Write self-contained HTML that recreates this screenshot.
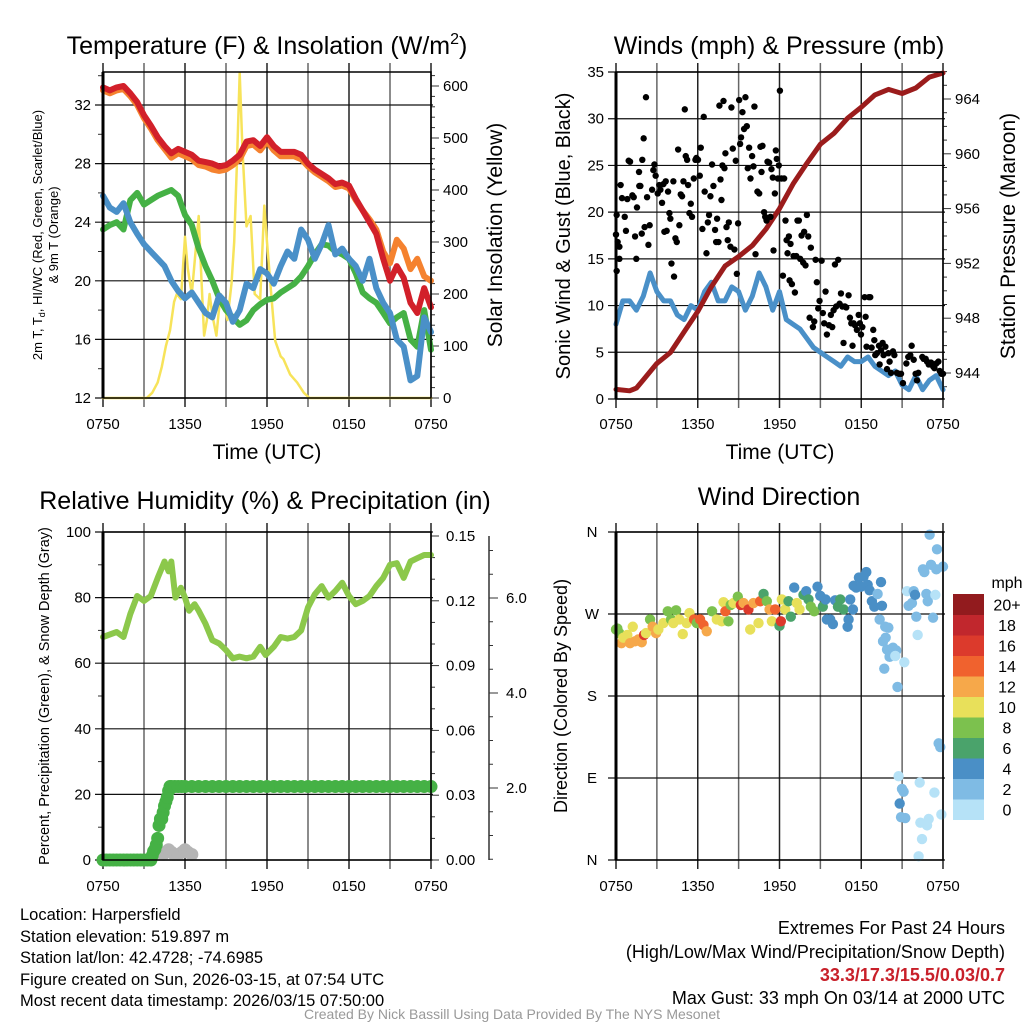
<!DOCTYPE html>
<html><head><meta charset="utf-8">
<style>
html,body{margin:0;padding:0;background:#fff;}
svg{display:block;font-family:"Liberation Sans",Arial,sans-serif;}
</style></head>
<body>
<svg id="fig" width="1024" height="1024" viewBox="0 0 1024 1024" xmlns="http://www.w3.org/2000/svg">
<rect x="0" y="0" width="1024" height="1024" fill="#fff"/>
<text x="267" y="54" font-size="25" text-anchor="middle">Temperature (F) &amp; Insolation (W/m<tspan font-size="16" dy="-10">2</tspan><tspan dy="10">)</tspan></text>
<text x="779" y="54" font-size="25" text-anchor="middle">Winds (mph) &amp; Pressure (mb)</text>
<text x="265" y="509" font-size="25" text-anchor="middle">Relative Humidity (%) &amp; Precipitation (in)</text>
<text x="779" y="505" font-size="25" text-anchor="middle">Wind Direction</text>

<text x="267" y="459" font-size="21" text-anchor="middle">Time (UTC)</text>
<text x="780" y="459" font-size="21" text-anchor="middle">Time (UTC)</text>
<text transform="translate(42,235) rotate(-90)" font-size="13" text-anchor="middle">2m T, T<tspan font-size="9" dy="3">d</tspan><tspan dy="-3">, HI/WC (Red, Green, Scarlet/Blue)</tspan></text>
<text transform="translate(58,235) rotate(-90)" font-size="13" text-anchor="middle">&amp; 9m T (Orange)</text>
<text transform="translate(502,235) rotate(-90)" font-size="21" text-anchor="middle">Solar Insolation (Yellow)</text>
<text transform="translate(570,236) rotate(-90)" font-size="20" text-anchor="middle">Sonic Wind &amp; Gust (Blue, Black)</text>
<text transform="translate(1015,236) rotate(-90)" font-size="21" text-anchor="middle">Station Pressure (Maroon)</text>
<text transform="translate(49,696) rotate(-90)" font-size="14.5" text-anchor="middle">Percent, Precipitation (Green), &amp; Snow Depth (Gray)</text>
<text transform="translate(567,696) rotate(-90)" font-size="18" text-anchor="middle">Direction (Colored By Speed)</text>

<g font-size="16.5">
<text x="20" y="920">Location: Harpersfield</text>
<text x="20" y="942">Station elevation: 519.897 m</text>
<text x="20" y="963">Station lat/lon: 42.4728; -74.6985</text>
<text x="20" y="985">Figure created on Sun, 2026-03-15, at 07:54 UTC</text>
<text x="20" y="1006">Most recent data timestamp: 2026/03/15 07:50:00</text>
</g>
<g font-size="18" text-anchor="end">
<text x="1005" y="934">Extremes For Past 24 Hours</text>
<text x="1005" y="958">(High/Low/Max Wind/Precipitation/Snow Depth)</text>
<text x="1005" y="981" fill="#c8202a" font-weight="bold">33.3/17.3/15.5/0.03/0.7</text>
<text x="1005" y="1004">Max Gust: 33 mph On 03/14 at 2000 UTC</text>
</g>
<text x="512" y="1019" font-size="14" fill="#999" text-anchor="middle">Created By Nick Bassill Using Data Provided By The NYS Mesonet</text>
<g id="plots"></g>
</svg>
<script>
// ---------- DATA ----------
const xTickLabels = ["0750","1350","1950","0150","0750"];
const halfHours = [0,0.5,1,1.5,2,2.5,3,3.5,4,4.5,5,5.5,6,6.5,7,7.5,8,8.5,9,9.5,10,10.5,11,11.5,12,12.5,13,13.5,14,14.5,15,15.5,16,16.5,17,17.5,18,18.5,19,19.5,20,20.5,21,21.5,22,22.5,23,23.5,24];
const tempRed = [33.2,33.0,33.2,33.3,32.8,32.2,31.3,30.6,29.8,29.2,28.7,29.0,28.8,28.6,28.2,28.1,28.0,27.8,27.9,28.2,28.6,29.5,29.6,29.2,29.8,29.2,28.8,28.8,28.8,28.6,28.0,27.6,27.3,27.0,26.6,26.7,26.5,25.6,24.8,24.0,23.2,21.5,20.0,21.0,20.2,18.5,17.8,19.5,18.2];
const temp9m = [33.0,32.8,33.0,33.1,32.6,32.0,31.1,30.4,29.6,29.0,28.4,28.7,28.5,28.3,27.9,27.8,27.6,27.5,27.6,27.9,28.3,29.2,29.3,28.9,29.5,28.9,28.5,28.5,28.5,28.3,27.8,27.4,27.1,26.8,26.4,26.5,26.3,25.5,24.8,24.2,23.5,22.0,21.2,22.8,22.2,20.8,21.5,20.3,20.0];
const dewpoint = [23.5,23.8,24.0,23.5,25.5,26.0,25.2,25.5,25.8,26.0,26.2,25.8,24.5,23.8,22.2,21.0,20.0,18.8,18.0,17.5,17.0,17.3,18.0,18.4,18.7,18.8,19.2,19.5,19.8,20.3,21.0,21.8,22.5,22.4,22.0,21.8,21.5,20.5,19.2,18.8,18.5,17.8,17.1,17.5,17.8,16.0,15.5,18.0,15.3];
const windChill = [25.8,25.0,24.7,25.3,24.0,23.2,22.5,22.0,21.5,21.0,20.0,19.3,18.8,19.2,18.5,17.8,17.5,19.0,18.5,17.2,18.0,19.8,19.5,20.8,20.5,19.8,21.0,22.0,21.5,23.5,22.8,21.5,22.5,23.8,21.8,22.2,21.5,21.0,20.0,21.5,19.5,18.5,17.8,16.0,15.5,13.2,13.5,17.5,16.5];
const solarHours = [0,3.2,3.6,4.0,4.3,4.6,4.9,5.2,5.4,5.7,6.0,6.2,6.5,7.0,7.2,7.4,7.6,7.8,8.0,8.3,8.6,8.8,9.1,9.4,9.6,9.8,10.0,10.2,10.5,10.8,11.1,11.5,11.8,12.0,12.4,12.6,13.0,13.2,13.7,14.2,14.7,15.1,24];
const solarValues = [0,0,10,30,60,100,130,185,200,190,310,250,200,350,230,120,150,200,160,120,200,190,150,220,300,450,625,480,330,350,200,190,370,300,170,110,80,75,45,30,10,0,0];
const pressureHours = [0,1,1.5,2,3,4,5,6,7,8,9,10,11,12,13,14,15,16,17,18,19,20,21,22,23,24];
const pressure = [942.8,942.7,942.9,943.5,944.7,945.5,947.0,948.5,950.3,951.8,952.5,953.3,954.5,956.0,957.8,959.3,960.7,961.5,962.6,963.4,964.3,964.7,964.4,964.8,965.6,965.9];
const sonicWind = [8.0,10.5,10.5,9.5,11.0,13.5,11.5,10.5,10.5,9.0,8.5,10.0,9.5,11.5,12.5,10.5,10.5,12.0,11.5,9.5,11.0,13.5,12.0,9.5,11.5,8.5,8.0,7.5,6.5,5.5,5.0,4.5,4.0,3.5,4.5,4.0,4.0,4.5,3.5,3.0,2.5,3.0,1.5,1.0,2.5,1.0,2.0,2.5,1.0];
const gustHours = [0,0.05,0.05,0.12,0.25,0.25,0.34,0.44,0.64,0.73,0.83,0.93,1.03,1.2,1.3,1.4,1.49,1.54,1.69,1.71,1.79,1.89,1.93,2.03,2.1,2.2,2.28,2.38,2.47,2.65,2.74,2.82,2.91,3.06,3.18,3.26,3.38,3.48,3.55,3.65,3.72,3.82,3.92,3.99,4.07,4.21,4.26,4.36,4.46,4.56,4.65,4.75,4.85,4.95,5.05,5.12,5.22,5.29,5.39,5.49,5.58,5.71,5.83,5.9,6.02,6.15,6.22,6.34,6.44,6.51,6.64,6.74,6.83,6.93,7.05,7.15,7.27,7.35,7.42,7.52,7.59,7.67,7.74,7.81,7.89,7.96,8.03,8.11,8.2,8.28,8.4,8.47,8.57,8.69,8.79,8.87,8.96,9.04,9.11,9.18,9.28,9.4,9.5,9.6,9.67,9.77,9.87,9.99,10.09,10.16,10.24,10.38,10.51,10.6,10.68,10.75,10.87,10.95,11.05,11.12,11.24,11.34,11.41,11.51,11.56,11.66,11.73,11.8,11.88,11.95,12.03,12.15,12.25,12.34,12.44,12.52,12.59,12.69,12.74,12.81,12.91,13.03,13.13,13.23,13.32,13.42,13.52,13.62,13.74,13.81,13.91,14.01,14.11,14.21,14.3,14.45,14.55,14.65,14.74,14.84,14.94,15.09,15.18,15.28,15.38,15.48,15.63,15.77,15.87,15.97,16.07,16.16,16.31,16.41,16.51,16.61,16.7,16.8,16.9,17.07,17.17,17.27,17.36,17.44,17.54,17.68,17.81,17.9,17.98,18.08,18.25,18.32,18.39,18.56,18.66,18.76,18.88,18.96,19.03,19.15,19.3,19.35,19.45,19.57,19.64,19.77,19.89,19.99,20.08,20.18,20.33,20.43,20.62,20.77,20.92,21.06,21.31,21.45,21.6,21.7,21.85,21.99,22.09,22.19,22.48,22.58,22.73,22.83,22.95,23.12,23.27,23.37,23.51,23.66,23.76,23.88,24.0];
const gustMph = [17.6,13.7,19.7,16.8,16.3,15.0,22.9,21.5,19.5,18.0,21.4,25.5,25.4,21.8,21.6,17.4,15.0,20.5,24.3,22.8,22.8,17.7,25.6,27.9,18.4,32.3,21.6,16.5,18.6,22.4,24.5,25.1,23.9,22.0,22.9,22.4,21.0,23.0,17.9,23.3,18.0,22.2,19.9,19.3,14.5,23.3,13.1,17.2,16.8,26.7,18.6,21.9,21.7,23.3,31.0,26.0,25.6,22.9,19.9,20.9,19.5,23.6,25.6,25.8,25.6,23.9,26.9,18.2,30.2,22.2,15.6,18.9,19.7,21.7,25.1,22.8,18.1,16.8,19.3,16.8,31.4,23.5,21.3,25.0,31.9,24.7,26.3,18.4,17.0,18.9,16.3,31.2,26.8,16.0,25.5,13.4,18.8,32.0,27.3,28.0,30.7,28.9,32.3,29.2,24.7,26.9,23.6,26.0,24.9,31.3,15.5,22.2,22.0,27.0,24.3,27.1,20.0,19.5,19.1,25.4,25.3,19.5,24.6,23.7,15.9,22.0,26.6,25.7,23.6,25.0,33.0,23.6,13.2,23.6,19.1,17.0,15.6,17.4,12.7,16.6,12.3,15.3,11.4,15.3,19.1,19.1,15.0,17.5,14.6,17.9,14.3,19.7,17.4,8.7,16.2,7.7,8.3,14.9,12.5,9.7,10.5,14.8,9.2,8.1,11.5,6.9,7.9,9.0,7.7,9.5,14.4,9.9,14.9,10.2,11.3,9.9,6.0,9.9,9.8,11.1,8.7,8.1,5.7,8.1,7.9,7.4,9.0,8.1,6.9,7.7,10.9,8.8,5.6,10.9,10.9,5.5,7.4,6.3,4.7,4.9,5.7,3.7,5.2,6.0,4.7,5.6,3.2,4.9,4.0,2.8,5.1,4.7,2.8,2.7,2.7,1.7,3.8,4.5,4.7,5.7,4.2,2.7,2.0,2.8,4.5,4.3,4.3,4.0,3.7,3.9,3.5,3.3,3.8,4.0,3.0,2.7,2.7];
const rhHours = [0,1,1.5,2,2.5,3,3.5,4,4.5,4.8,5,5.3,5.7,6,6.3,6.7,7,7.5,8,8.5,9,9.5,10,10.5,11,11.5,11.9,12.5,13,13.5,14,14.5,15,15.5,16,16.5,17,17.5,18,18.5,19,19.5,20,20.5,21,21.5,22,22.5,23,23.5,24];
const rh = [68,69.5,68,75,80.5,79,80.5,86,91,88,91,80,83,80,76,78,76,72,67,66,64,61.5,62,61.5,62,65,62.5,65,68,67.5,68,70,77,81,83.5,80,82,84.5,80.5,78,79,80.5,83.5,86,90,90.5,86,91,92,93,93];
const precipHours = [0,0.25,0.5,0.75,1,1.25,1.5,1.75,2,2.25,2.5,2.75,3,3.25,3.5,3.6,3.7,3.8,3.9,4.0,4.1,4.2,4.3,4.4,4.5,4.6,4.7,4.8,4.9,5.0,5.25,5.5,5.75,6,6.5,7,7.5,8,8.5,9,9.5,10,10.5,11,11.5,12,12.5,13,13.5,14,14.5,15,15.5,16,16.5,17,17.5,18,18.5,19,19.5,20,20.5,21,21.5,22,22.5,23,23.5,24];
const precip = [0,0,0,0,0,0,0,0,0,0,0,0,0,0,0,0.002,0.004,0.005,0.007,0.01,0.016,0.019,0.019,0.022,0.025,0.027,0.029,0.032,0.034,0.034,0.034,0.034,0.034,0.034,0.034,0.034,0.034,0.034,0.034,0.034,0.034,0.034,0.034,0.034,0.034,0.034,0.034,0.034,0.034,0.034,0.034,0.034,0.034,0.034,0.034,0.034,0.034,0.034,0.034,0.034,0.034,0.034,0.034,0.034,0.034,0.034,0.034,0.034,0.034,0.034];
const snowHours = [4.4,4.6,4.8,5.0,5.2,5.5,5.8,6.0,6.2,6.5];
const snowDepth = [0.6,0.65,0.7,0.65,0.6,0.6,0.65,0.7,0.65,0.6];
const dirHours = [0,0.1,0.25,0.4,0.54,0.83,1.03,1.23,1.4,1.64,1.89,2.06,2.2,2.5,2.69,2.94,3.11,3.48,3.8,4.04,4.21,4.41,4.65,4.9,5.19,5.39,5.73,5.93,6.17,6.42,6.66,7.05,7.4,7.76,7.89,8.03,8.25,8.42,8.62,8.94,9.16,9.36,9.72,9.85,10.09,10.46,10.58,10.83,11.07,11.27,11.44,11.68,12.0,12.1,12.17,12.42,12.66,12.83,13.08,13.27,13.47,13.76,13.96,14.13,14.3,14.55,14.79,14.99,15.18,15.38,15.48,15.72,15.92,16.09,16.29,16.46,16.7,17.0,17.07,17.19,17.39,17.44,17.63,17.83,17.98,18.17,18.37,18.47,18.61,18.78,18.96,19.2,19.35,19.45,19.52,19.76,19.99,19.6,19.79,19.89,20.08,20.33,20.57,19.69,20.66,20.5,21.16,20.74,20.99,21.11,20.82,20.92,21.23,21.36,21.48,21.72,21.85,21.95,22.04,22.14,22.29,22.34,22.46,22.21,22.53,22.63,22.78,22.88,22.95,23.02,23.12,23.27,23.44,23.37,23.56,23.51,23.68,23.8,23.88,24.0,22.83];
const dirDeg = [253,254,249,238,244,247,238,256,240,242,239,247,249,264,256,249,253,260,273,264,260,274,264,248,260,271,264,260,264,258,251,273,264,262,283,273,262,280,282,289,280,282,275,253,282,260,284,292,284,275,262,275,257,262,286,275,284,267,299,282,275,291,295,286,278,273,300,290,278,286,264,264,259,285,278,286,275,256,264,286,275,301,299,310,300,311,316,302,296,284,278,292,264,305,279,256,255,240,244,231,223,233,230,210,190,224,217,92,78,75,62,47,46,295,279,282,295,291,267,247,85,41,23,4,319,316,292,284,45,357,324,266,291,74,341,319,128,124,50,322,38];
const dirSpeed = [8,8,8,12,10,10,12,10,12,12,12,16,10,8,12,12,10,10,8,8,10,8,10,10,10,10,14,8,14,14,12,8,10,10,10,14,8,8,10,8,16,12,16,10,12,10,14,6,8,12,10,14,6,16,10,10,6,6,4,10,10,6,4,6,8,8,4,4,6,4,4,4,4,4,6,6,6,4,4,4,4,4,4,4,4,4,4,4,4,4,4,2,2,4,4,2,2,2,2,2,2,2,2,2,2,0,0,0,2,2,4,2,2,0,2,2,2,4,2,0,0,0,0,0,2,2,2,2,0,2,2,2,0,0,2,2,2,2,0,2,0];
const speedBinLabels = ["0","2","4","6","8","10","12","14","16","18","20+"];
const speedColors = ["#b6e2f7","#7fbbe4","#4a8fc6","#4aa36b","#7cc14e","#e8e05a","#f6a84a","#f0622e","#dc3a2c","#c1272d","#921b1e"];

// ---------- HELPERS ----------
const NS = "http://www.w3.org/2000/svg";
const root = document.getElementById("plots");
function mk(tag, attrs, parent) {
  const el = document.createElementNS(NS, tag);
  for (const k in attrs) el.setAttribute(k, attrs[k]);
  (parent || root).appendChild(el);
  return el;
}
function lin(d0, d1, r0, r1) { return v => r0 + (v - d0) * (r1 - r0) / (d1 - d0); }
function pathFrom(xs, ys, fx, fy) {
  return xs.map((x, i) => (i ? "L" : "M") + fx(x).toFixed(1) + " " + fy(ys[i]).toFixed(1)).join(" ");
}
function txt(x, y, s, size, anchor, parent) {
  const t = mk("text", {x: x, y: y, "font-size": size, "text-anchor": anchor || "middle"}, parent);
  t.textContent = s;
  return t;
}
function timePanel(name, x0, x1, yTop, yBot, labelY) {
  const g = mk("g", {});
  
  
  const fx = lin(0, 24, x0, x1);
  for (let h = 0; h <= 24; h += 3) {
    const l = mk("line", {x1: fx(h), x2: fx(h), y1: yTop - 9, y2: yBot + 9, stroke: (h % 6 === 0) ? "#222" : "#666", "stroke-width": 1.5}, g);
    
    
  }
  for (let i = 0; i < xTickLabels.length; i++) {
    const t = txt(fx(i * 6), labelY, xTickLabels[i], 15, "middle", g);
    
    
  }
  return {g: g, fx: fx};
}
function hGrid(g, x0, x1, y, label, lx, anchor) {
  const l = mk("line", {x1: x0 - 8, x2: x1 + 2, y1: y, y2: y, stroke: "#111", "stroke-width": 1.2}, g);
  
  
  if (label !== null) {
    const t = txt(lx, y + 5, label, 15, anchor || "end", g);
    
    
  }
}
function tick(g, x, y, len, name) {
  const l = mk("line", {x1: x, x2: x + len, y1: y, y2: y, stroke: "#333", "stroke-width": 1}, g);
  
  
}
function frame(g, x0, x1, yTop, yBot) {
  const r = mk("rect", {x: x0, y: yTop, width: x1 - x0, height: yBot - yTop, fill: "none", stroke: "#000", "stroke-width": 1.5}, g);
  
  
  const l = mk("line", {x1: x0, x2: x0, y1: yTop, y2: yBot, stroke: "#000", "stroke-width": 3}, g);
  
  
}
function line(g, xs, ys, fx, fy, color, w, name) {
  const p = mk("path", {d: pathFrom(xs, ys, fx, fy), fill: "none", stroke: color, "stroke-width": w, "stroke-linejoin": "round", "stroke-linecap": "round"}, g);
  
  
}

// ---------- PANEL 1: Temperature ----------
(function () {
  const x0 = 103, x1 = 431, yTop = 72, yBot = 398;
  const P = timePanel("temperature-panel", x0, x1, yTop, yBot, 429);
  const g = P.g, fx = P.fx;
  const fy = lin(12, 32, 398, 105);
  const fs = lin(0, 600, 398, 86);
  for (let v = 12; v <= 32; v += 4) hGrid(g, x0, x1, fy(v), String(v), x0 - 12);
  for (let v = 14; v <= 34; v += 2) if (v % 4) tick(g, x0 - 5, fy(v), 5, 'left-minor-tick');
  for (let v = 0; v <= 600; v += 100) {
    tick(g, x1, fs(v), 8, 'right-major-tick');
    const t = txt(x1 + 12, fs(v) + 5, String(v), 15, "start", g);
    
    
  }
  for (let v = 20; v <= 620; v += 20) if (v % 100) tick(g, x1, fs(v), 4, 'right-minor-tick');
  line(g, solarHours, solarValues, fx, fs, "#f7e35a", 2.5, "solar-insolation-line");
  line(g, halfHours, dewpoint, fx, fy, "#45b145", 6, "dewpoint-line");
  line(g, halfHours, temp9m, fx, fy, "#f5822f", 6, "temperature-9m-line");
  line(g, halfHours, tempRed, fx, fy, "#d2202a", 6, "temperature-2m-line");
  line(g, halfHours, windChill, fx, fy, "#4a90c8", 6, "wind-chill-line");
  frame(g, x0, x1, yTop, yBot);
})();

// ---------- PANEL 2: Winds ----------
(function () {
  const x0 = 616, x1 = 943, yTop = 72, yBot = 399;
  const P = timePanel("winds-panel", x0, x1, yTop, yBot, 429);
  const g = P.g, fx = P.fx;
  const fy = lin(0, 35, 399, 72);
  const fp = lin(944, 964, 373, 99);
  for (let v = 0; v <= 35; v += 5) hGrid(g, x0, x1, fy(v), String(v), x0 - 12);
  for (let v = 944; v <= 964; v += 4) {
    tick(g, x1, fp(v), 8, 'pressure-major-tick');
    const t = txt(x1 + 12, fp(v) + 5, String(v), 15, "start", g);
    
    
  }
  for (let v = 943; v <= 966; v += 1) if ((v - 944) % 4) tick(g, x1, fp(v), 4, 'pressure-minor-tick');
  line(g, halfHours, sonicWind, fx, fy, "#4a90c8", 5, "sonic-wind-line");
  line(g, pressureHours, pressure, fx, fp, "#9b1c1c", 5, "station-pressure-line");
  for (let i = 0; i < gustHours.length; i++) {
    const c = mk("circle", {cx: fx(gustHours[i]), cy: fy(gustMph[i]), r: 3.2, fill: "#000"}, g);
    
    
  }
  frame(g, x0, x1, yTop, yBot);
})();

// ---------- PANEL 3: Humidity ----------
(function () {
  const x0 = 103, x1 = 431, yTop = 532, yBot = 860;
  const P = timePanel("humidity-panel", x0, x1, yTop, yBot, 891);
  const g = P.g, fx = P.fx;
  const fy = lin(0, 100, 860, 532);
  const fpr = lin(0, 0.15, 860, 536);
  const fsn = lin(0, 2, 883, 788);
  for (let v = 0; v <= 100; v += 20) hGrid(g, x0, x1, fy(v), String(v), x0 - 12);
  for (let v = 10; v <= 90; v += 20) tick(g, x0 - 5, fy(v), 5, 'left-minor-tick');
  for (let v = 0; v <= 5; v++) {
    const val = v * 0.03;
    tick(g, x1, fpr(val), 8, 'precip-major-tick');
    const t = txt(x1 + 15, fpr(val) + 5, val.toFixed(2), 15, "start", g);
    
    
  }
  for (let v = 1; v <= 15; v++) if (v % 3) tick(g, x1, fpr(v * 0.01), 4, 'precip-minor-tick');
  const ax = mk("line", {x1: 489, x2: 489, y1: 536, y2: 860, stroke: "#333", "stroke-width": 1.5}, g);
  
  
  for (let v = 0.5; v <= 7.0; v += 0.5) {
    const y = fsn(v);
    if (y < 536 || y > 860) continue;
    const major = (v % 2 === 0);
    tick(g, 489, y, major ? 9 : 4, 'snow-tick');
    if (major) {
      const t = txt(506, y + 5, v.toFixed(1), 15, "start", g);
      
      
    }
  }
  for (let i = 0; i < snowHours.length; i++) {
    const c = mk("circle", {cx: fx(snowHours[i]), cy: fsn(snowDepth[i]), r: 6.5, fill: "#b5b5b5"}, g);
    
    
  }
  for (let i = 0; i < precipHours.length; i++) {
    const c = mk("circle", {cx: fx(precipHours[i]), cy: fpr(precip[i]), r: 6.5, fill: "#45b145"}, g);
    
    
  }
  line(g, rhHours, rh, fx, fy, "#8cc84b", 6, "relative-humidity-line");
  frame(g, x0, x1, yTop, yBot);
})();

// ---------- PANEL 4: Wind direction ----------
(function () {
  const x0 = 616, x1 = 943, yTop = 532, yBot = 860;
  const P = timePanel("wind-direction-panel", x0, x1, yTop, yBot, 891);
  const g = P.g, fx = P.fx;
  const fy = lin(0, 360, 860, 532);
  const dirLabels = ["N","E","S","W","N"];
  for (let i = 0; i < 5; i++) hGrid(g, x0, x1, fy(i * 90), dirLabels[i], x0 - 24, "middle");
  for (let i = 0; i < dirHours.length; i++) {
    const bin = Math.min(10, Math.floor(dirSpeed[i] / 2));
    const c = mk("circle", {cx: fx(dirHours[i]), cy: fy(dirDeg[i]), r: 5.2, fill: speedColors[bin]}, g);
    
    
  }
  frame(g, x0, x1, yTop, yBot);
  const lg = mk("g", {});
  
  
  const t0 = txt(1007, 588, "mph", 16, "middle", lg);
  
  
  const bh = 20.5;
  for (let i = 0; i < speedColors.length; i++) {
    const y = 594 + (10 - i) * bh;
    const r = mk("rect", {x: 953, y: y, width: 31, height: bh + 0.5, fill: speedColors[i]}, lg);
    
    
    const t = txt(1007, y + bh / 2 + 6, speedBinLabels[i], 16, "middle", lg);
    
    
  }
})();
</script>
</body></html>
